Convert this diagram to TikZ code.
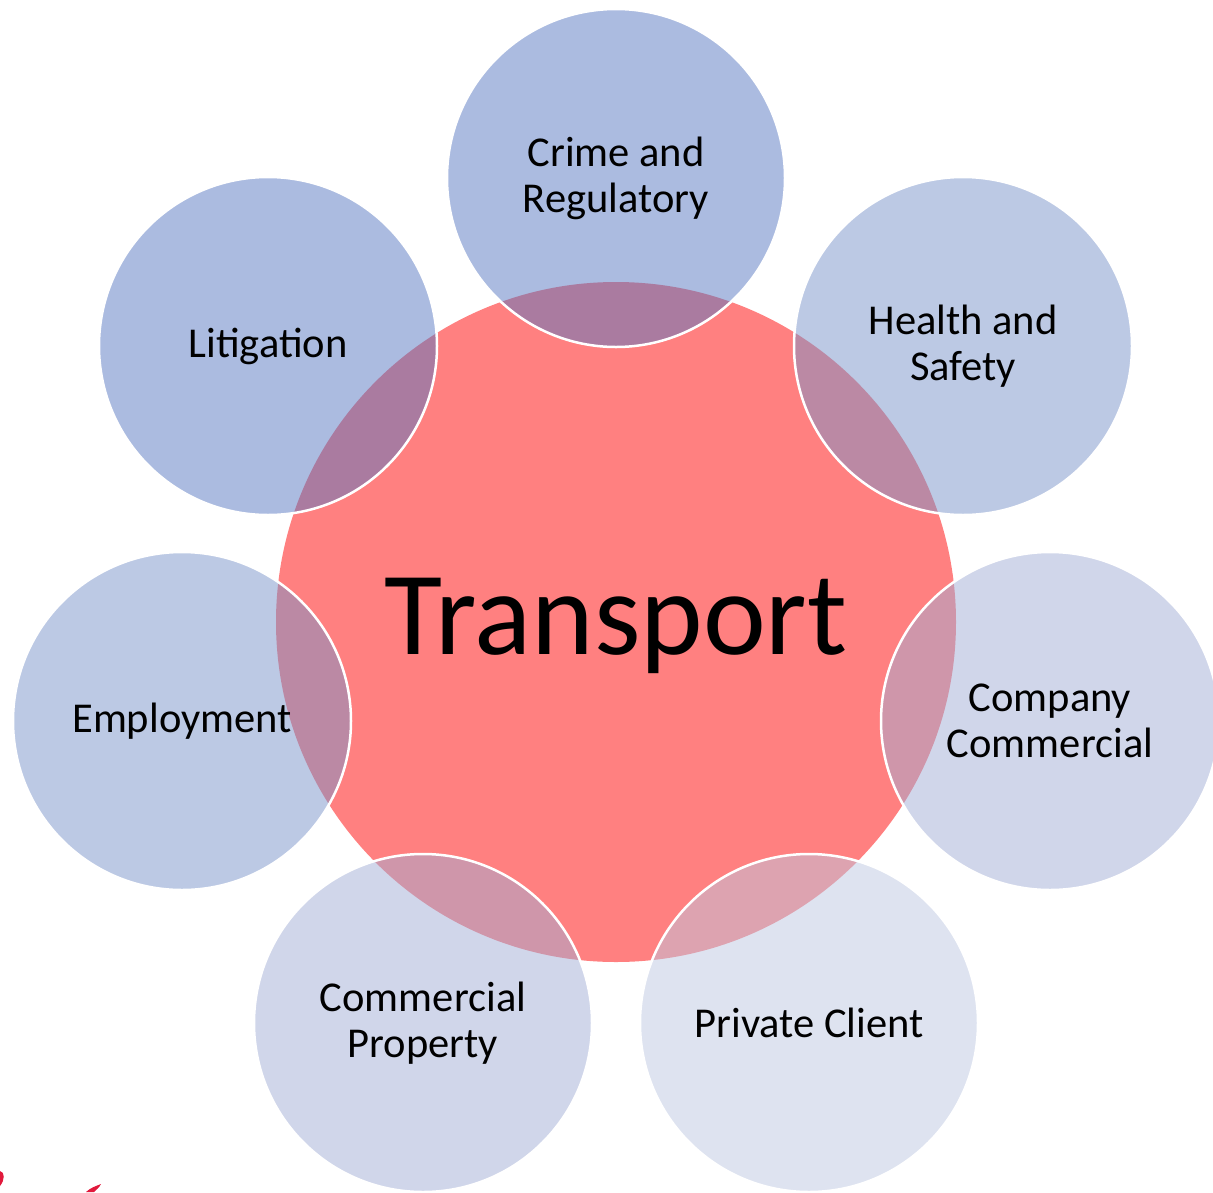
\documentclass[tikz,border=0pt]{standalone}
\usepackage{fontspec}
\setmainfont{Carlito}
\begin{document}
\begin{tikzpicture}[x=1pt,y=-1pt,
  hub/.style={circle, fill=hubred, minimum size=680pt, inner sep=0pt},
  hublabel/.style={font=\fontsize{119}{125}\selectfont},
  petal/.style={circle, minimum size=338pt, inner sep=0pt, draw=white,
    line width=2.5pt, fill opacity=0.5, text opacity=1, align=center,
    font=\fontsize{42.5}{46}\selectfont},
]
\definecolor{hubred}{RGB}{255,128,128}
\definecolor{blueA}{RGB}{87,119,193}
\definecolor{blueB}{RGB}{121,147,201}
\definecolor{blueC}{RGB}{161,173,213}
\definecolor{blueD}{RGB}{189,199,225}
\definecolor{logored}{RGB}{225,25,60}

\useasboundingbox (0,0) rectangle (1213,1192);
\clip (0,0) rectangle (1213,1192);

% central topic
\node[hub] (hub) at (616,622) {};
\node[hublabel] (hubtext) at (616,626) {Transport};

% surrounding practice areas
\node[petal, fill=blueA] (crime)    at (616,178)  {Crime and\\Regulatory};
\node[petal, fill=blueB] (health)   at (963,346)  {Health and\\Safety};
\node[petal, fill=blueC] (company)  at (1050,721) {Company\\Commercial};
\node[petal, fill=blueD] (private)  at (809,1023) {Private Client};
\node[petal, fill=blueC] (property) at (423,1023) {Commercial\\Property};
\node[petal, fill=blueB] (employ)   at (182,721)  {Employment};
\node[petal, fill=blueA] (litig)    at (268,346)  {Litigation};

% fragments of the corner logo
\fill[logored] (0,1171) .. controls (5,1172) and (5,1180) .. (0,1186) -- cycle;
\fill[logored] (86,1192) .. controls (90,1188) and (96,1186) .. (101,1184)
  .. controls (99,1188) and (96,1190) .. (94,1192) -- cycle;
\end{tikzpicture}
\end{document}
